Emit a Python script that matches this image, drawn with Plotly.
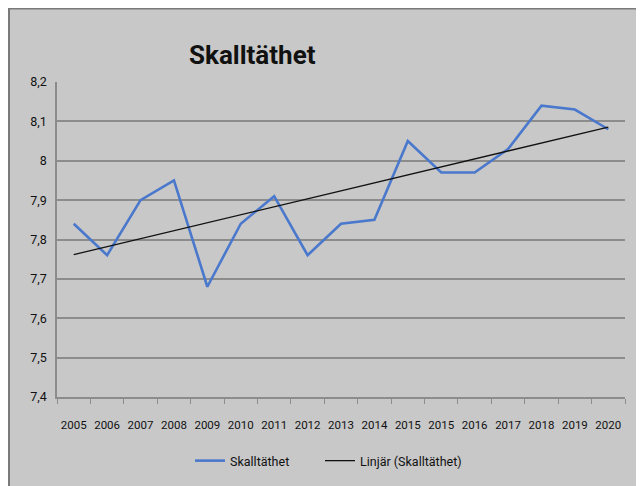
import numpy as np
import plotly.graph_objects as go

# ---- data ----
years = ["2005", "2006", "2007", "2008", "2009", "2010", "2011", "2012", "2013",
         "2014", "2015", "2015 ", "2016", "2017", "2018", "2019", "2020"]
year_labels = ["2005", "2006", "2007", "2008", "2009", "2010", "2011", "2012", "2013",
               "2014", "2015", "2015", "2016", "2017", "2018", "2019", "2020"]
skalltathet = [7.84, 7.76, 7.90, 7.95, 7.68, 7.84, 7.91, 7.76, 7.84,
               7.85, 8.05, 7.97, 7.97, 8.03, 8.14, 8.13, 8.08]
y_ticks = [7.4, 7.5, 7.6, 7.7, 7.8, 7.9, 8.0, 8.1, 8.2]
y_ticktext = ["7,4", "7,5", "7,6", "7,7", "7,8", "7,9", "8", "8,1", "8,2"]
title_text = "Skalltäthet"
series_name = "Skalltäthet"
trend_name = "Linjär (Skalltäthet)"

# linear trendline (least squares, like Excel's "Linjär")
idx = np.arange(len(skalltathet))
slope, intercept = np.polyfit(idx, skalltathet, 1)
trend = list(intercept + slope * idx)

FONT = "Roboto, Liberation Sans, sans-serif"
BG = "#c8c8c8"
GRID = "#8c8c8c"

W, H = 644, 486
L, R, T, B = 49, 27, 74, 97
pw, ph = W - L - R, H - T - B

def px(x):
    return (x - L) / pw

def py(y):
    return (H - B - y) / ph

fig = go.Figure()
fig.add_trace(go.Scatter(x=years, y=skalltathet, mode="lines", name=series_name,
                         line=dict(color="#4a78cc", width=2.6), legend="legend"))
fig.add_trace(go.Scatter(x=years, y=trend, mode="lines", name=trend_name,
                         line=dict(color="#111111", width=1.3), legend="legend2"))

shapes = [
    dict(type="line", xref="paper", yref="paper", x0=px(1), x1=px(1), y0=py(H), y1=py(0),
         line=dict(color="#7a7a7a", width=2)),
    dict(type="line", xref="paper", yref="paper", x0=px(0), x1=px(W), y0=py(0.5), y1=py(0.5),
         line=dict(color="#7a7a7a", width=2)),
]

leg_common = dict(orientation="h", xref="paper", yref="paper", xanchor="left",
                  yanchor="middle", bgcolor="rgba(0,0,0,0)",
                  font=dict(family=FONT, size=12.5), itemwidth=30, tracegroupgap=0)

fig.update_layout(
    width=W, height=H,
    margin=dict(l=L, r=R, t=T, b=B),
    paper_bgcolor=BG, plot_bgcolor=BG,
    font=dict(family=FONT, color="#111111", size=12),
    shapes=shapes,
    annotations=[dict(text=f"<b>{title_text}</b>", xref="paper", yref="paper",
                      x=px(244), y=py(47), xanchor="center", yanchor="middle",
                      showarrow=False, font=dict(family=FONT, size=26, color="#111111"))],
    showlegend=True,
    legend=dict(x=px(182), y=py(453), **leg_common),
    legend2=dict(x=px(312), y=py(453), **leg_common),
)

fig.update_xaxes(
    type="category", range=[-0.5, len(years) - 0.5],
    tickmode="array", tickvals=years, ticktext=year_labels, tickangle=0,
    tickson="boundaries", ticks="outside", ticklen=5, tickcolor=GRID, tickwidth=1,
    showgrid=False, showline=True, linecolor=GRID, linewidth=1.5,
    tickfont=dict(family=FONT, size=11.5, color="#111111"),
    ticklabelstandoff=16, fixedrange=True,
)
fig.update_yaxes(
    range=[7.4, 8.2], tickmode="array", tickvals=y_ticks, ticktext=y_ticktext,
    showgrid=True, gridcolor=GRID, gridwidth=1.5,
    showline=True, linecolor=GRID, linewidth=1.5, zeroline=False,
    ticks="", tickfont=dict(family=FONT, size=12.5, color="#111111"),
    ticklabelstandoff=6, fixedrange=True,
)

fig.write_html("out.html")
